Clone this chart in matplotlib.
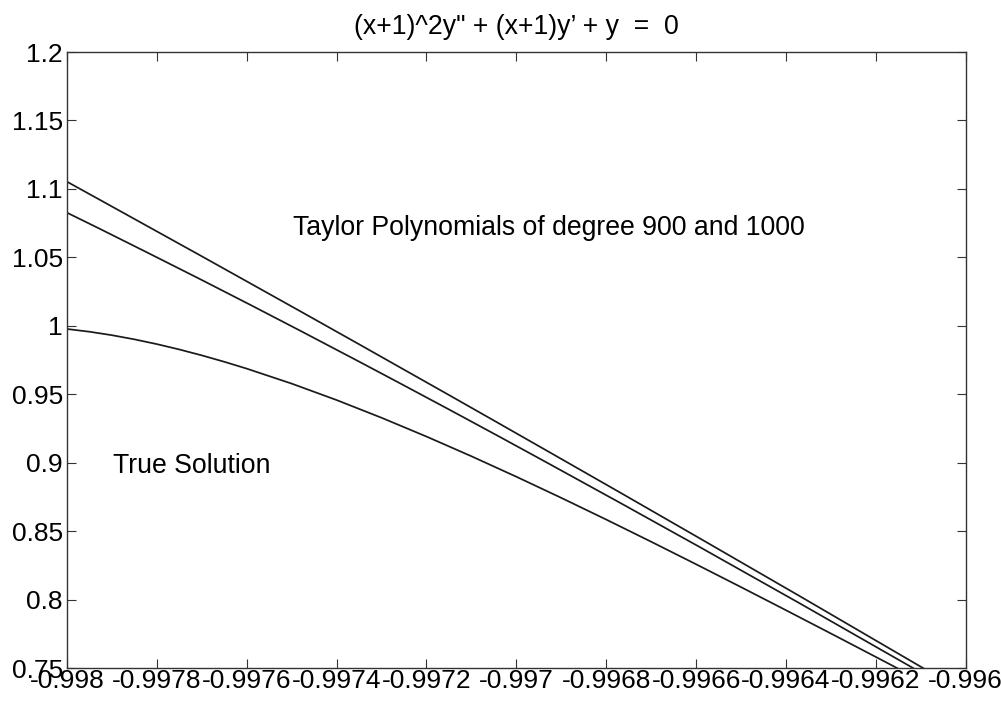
import matplotlib
matplotlib.use("Agg")
import matplotlib.pyplot as plt
from matplotlib.ticker import FixedLocator, FixedFormatter

# ---- data ----
true_x = [-0.9980, -0.99795, -0.9979, -0.99785, -0.9978, -0.99775, -0.9977, -0.99765,
          -0.9976, -0.9975, -0.9974, -0.9973, -0.9972, -0.9971, -0.9970, -0.9969,
          -0.9968, -0.9967, -0.9966, -0.9965, -0.9964, -0.9963, -0.9962, -0.9961, -0.9960]
true_y = [0.99765, 0.99565, 0.99312, 0.99009, 0.98660, 0.98269, 0.97838, 0.97370,
          0.96869, 0.95775, 0.94574, 0.93280, 0.91908, 0.90469, 0.88973, 0.87429,
          0.85844, 0.84225, 0.82578, 0.80909, 0.79221, 0.77520, 0.75808, 0.74088, 0.72366]

t900_x = [-0.9980000, -0.9979266, -0.9978153, -0.9977040, -0.9975927, -0.9974815,
          -0.9973479, -0.9972589, -0.9971477, -0.9970364, -0.9969251, -0.9967693,
          -0.9965913, -0.9963687, -0.9960951, -0.9960]
t900_y = [1.10525, 1.09196, 1.07172, 1.05149, 1.03111, 1.01073,
          0.98611, 0.96960, 0.94900, 0.92825, 0.90743, 0.87821,
          0.84461, 0.80238, 0.75000, 0.73170]

t1000_x = [-0.9980000, -0.9979266, -0.9978153, -0.9977040, -0.9975927, -0.9974815,
           -0.9973479, -0.9972589, -0.9971477, -0.9970364, -0.9969251, -0.9967693,
           -0.9965913, -0.9963687, -0.9961173, -0.9960]
t1000_y = [1.08261, 1.07077, 1.05251, 1.03410, 1.01540, 0.99648,
           0.97347, 0.95798, 0.93848, 0.91875, 0.89881, 0.87069,
           0.83825, 0.79712, 0.75000, 0.72790]

xticks = [-0.998, -0.9978, -0.9976, -0.9974, -0.9972, -0.997, -0.9968, -0.9966, -0.9964, -0.9962, -0.996]
xticklabels = ['-0.998', '-0.9978', '-0.9976', '-0.9974', '-0.9972', '-0.997',
               '-0.9968', '-0.9966', '-0.9964', '-0.9962', '-0.996']
yticks = [0.75, 0.8, 0.85, 0.9, 0.95, 1.0, 1.05, 1.1, 1.15, 1.2]
yticklabels = ['0.75', '0.8', '0.85', '0.9', '0.95', '1', '1.05', '1.1', '1.15', '1.2']

title = "(x+1)^2y\" + (x+1)y\u2019 + y  =  0"
label_taylor = "Taylor Polynomials of degree 900 and 1000"
label_true = "True Solution"

# ---- figure ----
plt.rcParams['font.family'] = ['Liberation Sans', 'DejaVu Sans']
fs = 19.2
fs_tick = 19.0
fig = plt.figure(figsize=(10.01, 7.03), dpi=100)
ax = fig.add_axes([67/1001, 35/703, (965.7-67)/1001, 616/703])

lc = '#1a1a1a'
ax.plot(true_x, true_y, color=lc, lw=1.25)
ax.plot(t900_x, t900_y, color=lc, lw=1.25)
ax.plot(t1000_x, t1000_y, color=lc, lw=1.25)

ax.set_xlim(-0.998, -0.996)
ax.set_ylim(0.75, 1.2)
ax.xaxis.set_major_locator(FixedLocator(xticks))
ax.xaxis.set_major_formatter(FixedFormatter(xticklabels))
ax.yaxis.set_major_locator(FixedLocator(yticks))
ax.yaxis.set_major_formatter(FixedFormatter(yticklabels))

ax.tick_params(direction='in', length=6.5, width=0.8, color='#333333',
               top=True, right=True, labelsize=fs_tick, labelcolor='black')
ax.tick_params(axis='x', pad=0.5)
ax.tick_params(axis='y', pad=3)
for s in ax.spines.values():
    s.set_linewidth(1.0)
    s.set_color('#333333')

ax.set_title(title, fontsize=fs, pad=13)
ax.text(-0.997497, 1.0663, label_taylor, fontsize=fs, ha='left', va='baseline')
ax.text(-0.997897, 0.8927, label_true, fontsize=fs, ha='left', va='baseline')

fig.savefig('out.png', dpi=100, facecolor='white')
